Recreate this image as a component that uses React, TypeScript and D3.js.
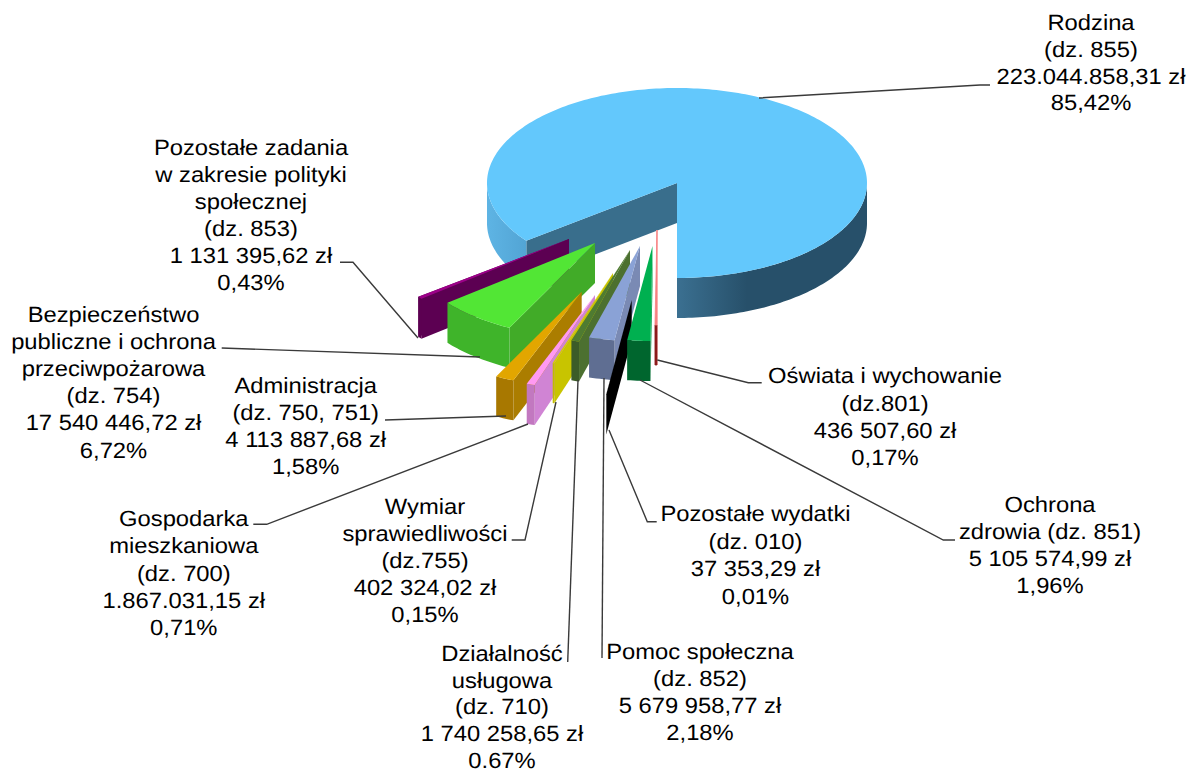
import React from "react";
import * as d3 from "d3";

// ---- data ----
const categories = [
  "Oświata i wychowanie", "Ochrona zdrowia", "Pozostałe wydatki", "Pomoc społeczna",
  "Działalność usługowa", "Wymiar sprawiedliwości", "Gospodarka mieszkaniowa",
  "Administracja", "Bezpieczeństwo publiczne", "Pozostałe zadania", "Rodzina",
];
const shares = [0.17, 1.96, 0.01, 2.18, 0.67, 0.15, 0.71, 1.58, 6.72, 0.43, 85.42];

// ---- styling / layout ----
const CX = 677, CY = 183, RX = 190, RY = 95, DEPTH = 40;
const explodeX = [-20, -24.5, -45.3, -37, -47, -64, -82, -95.3, -82, -108, 0];
const explodeY = [47, 63, 117, 63, 67, 90, 112, 108.7, 60, 56, 0];
const topColors = ["#f68080", "#00b050", "#000000", "#8aa2d6", "#4f7b31", "#d4cf00", "#ff99f2", "#e2a600", "#52e635", "#9c0088", "#63c8fc"];
const wallColors = ["#ffc0c0", "#00a048", "#000000", "#7a8ab4", "#4c7030", "#c8c400", "#d084d4", "#ab7d00", "#41ab28", "#5c0052", "#396e8c"];
const rimColors = ["#8c1c1c", "#00662e", "#000000", "#5f6e92", "#3c5c28", "#c0bc00", "#c278c0", "#a87800", "#3fb42a", "#5c0052", "#27506a"];

const labels: { x: number; y: number; step: number; lines: string[] }[] = [
  { x: 885, y: 375.7, step: 27.2, lines: ["Oświata i wychowanie", "(dz.801)", "436 507,60 zł", "0,17%"] },
  { x: 1050, y: 504, step: 27.2, lines: ["Ochrona", "zdrowia (dz. 851)", "5 105 574,99 zł", "1,96%"] },
  { x: 755.5, y: 513.7, step: 27.5, lines: ["Pozostałe wydatki", "(dz. 010)", "37 353,29 zł", "0,01%"] },
  { x: 700, y: 651.7, step: 26.9, lines: ["Pomoc społeczna", "(dz. 852)", "5 679 958,77 zł", "2,18%"] },
  { x: 502, y: 653.5, step: 26.6, lines: ["Działalność", "usługowa", "(dz. 710)", "1 740 258,65 zł", "0.67%"] },
  { x: 425, y: 506.7, step: 27, lines: ["Wymiar", "sprawiedliwości", "(dz.755)", "402 324,02 zł", "0,15%"] },
  { x: 183.8, y: 518.3, step: 27.25, lines: ["Gospodarka", "mieszkaniowa", "(dz. 700)", "1.867.031,15 zł", "0,71%"] },
  { x: 305.7, y: 385, step: 27.2, lines: ["Administracja", "(dz. 750, 751)", "4 113 887,68 zł", "1,58%"] },
  { x: 113.5, y: 313.8, step: 27.2, lines: ["Bezpieczeństwo", "publiczne i ochrona", "przeciwpożarowa", "(dz. 754)", "17 540 446,72 zł", "6,72%"] },
  { x: 251, y: 147.5, step: 26.9, lines: ["Pozostałe zadania", "w zakresie polityki", "społecznej", "(dz. 853)", "1 131 395,62 zł", "0,43%"] },
  { x: 1091, y: 22.5, step: 26.7, lines: ["Rodzina", "(dz. 855)", "223.044.858,31 zł", "85,42%"] },
];
const TEXT_STRETCH = 1.08;
const leaders: [number, number][][] = [
  [[761.7, 382.7], [748.3, 382.7], [657.3, 360]],
  [[955, 540], [943.3, 540], [640, 380]],
  [[656.7, 521.7], [647.3, 521.7], [609, 430]],
  [[602, 658], [604, 378]],
  [[567.7, 662], [578, 380]],
  [[511.7, 540], [525, 540], [556, 402]],
  [[253.3, 524.3], [266.7, 524.3], [528, 424]],
  [[385, 420], [506, 416]],
  [[221.7, 348], [480, 357]],
  [[340, 262.3], [353, 262.3], [418, 338]],
  [[759, 98], [980, 85], [990, 85]],
];

const H270 = (3 * Math.PI) / 2;
const H450 = (5 * Math.PI) / 2;

function App() {
  const arcs = d3.pie<number>().sort(null).startAngle(Math.PI).endAngle(3 * Math.PI)(shares);
  const line = d3.line();

  const pt = (a: number, ox: number, oy: number, d = 0): [number, number] => [
    CX + ox + RX * Math.sin(a),
    CY + oy - RY * Math.cos(a) + d,
  ];
  const arcPts = (a0: number, a1: number, ox: number, oy: number, d = 0) => {
    const n = Math.max(2, Math.ceil(Math.abs(a1 - a0) / 0.02));
    return d3.range(n + 1).map((i) => pt(a0 + ((a1 - a0) * i) / n, ox, oy, d));
  };
  const rim = (a0: number, a1: number, ox: number, oy: number) =>
    line([...arcPts(a0, a1, ox, oy), ...arcPts(a1, a0, ox, oy, DEPTH)]) + "Z";

  // Order: the big slice first, then the exploded ones from left to right.
  const order = d3.range(shares.length).sort((a, b) => (a === 10 ? -1 : b === 10 ? 1 : b - a));
  const shapes = order.map((i) => {
    const a = arcs[i];
    const ox = explodeX[i], oy = explodeY[i];
    const apex: [number, number] = [CX + ox, CY + oy];
    const apexD: [number, number] = [apex[0], apex[1] + DEPTH];
    const s = a.startAngle, e = a.endAngle;
    const top = line([apex, ...arcPts(s, e, ox, oy)]) + "Z";
    if (i === 10) {
      const cutEnd = pt(s, 0, 0);
      return (
        <g key={i}>
          <path d={line([apex, cutEnd, [cutEnd[0], cutEnd[1] + DEPTH], apexD]) + "Z"} fill={wallColors[i]} />
          <path d={rim(s, H270, 0, 0)} fill="url(#rimLeft)" />
          <path d={rim(H450, e, 0, 0)} fill="url(#rimRight)" />
          <path d={top} fill={topColors[i]} />
        </g>
      );
    }
    const startPt = pt(s, ox, oy);
    const endPt = pt(e, ox, oy);
    const wallStart = line([apex, startPt, [startPt[0], startPt[1] + DEPTH], apexD]) + "Z";
    const wallEnd = line([apex, endPt, [endPt[0], endPt[1] + DEPTH], apexD]) + "Z";
    const thin = i === 0;
    return (
      <g key={i}>
        {i === 9 ? <path d={wallEnd} fill={wallColors[i]} /> : null}
        <path d={wallStart} fill={wallColors[i]} stroke={thin ? wallColors[i] : "none"} strokeWidth={thin ? 1 : 0} />
        <path d={rim(s, e, ox, oy)} fill={rimColors[i]} stroke={thin ? rimColors[i] : "none"} strokeWidth={thin ? 0.8 : 0} />
        <path d={top} fill={topColors[i]} stroke={thin ? topColors[i] : "none"} strokeWidth={thin ? 0.8 : 0} />
      </g>
    );
  });

  return (
    <svg
      width={1190}
      height={773}
      viewBox="0 0 1190 773"
      style={{ position: "absolute", left: 0, top: 0, background: "#fff" }}
    >
      <defs>
        <linearGradient id="rimRight" gradientUnits="userSpaceOnUse" x1={CX} x2={CX + 70} y1={0} y2={0}>
          <stop offset="0" stopColor="#3b7091" />
          <stop offset="1" stopColor="#27506a" />
        </linearGradient>
        <linearGradient id="rimLeft" gradientUnits="userSpaceOnUse" x1={CX - RX} x2={CX - 150} y1={0} y2={0}>
          <stop offset="0" stopColor="#5eb4e4" />
          <stop offset="1" stopColor="#52a4d4" />
        </linearGradient>
      </defs>
      {shapes}
      {leaders.map((l, i) => (
        <path key={i} d={line(l) as string} fill="none" stroke="#3a3a3a" strokeWidth={1.4} />
      ))}
      {labels.map((l, i) => (
        <text
          key={i}
          transform={`translate(${l.x},0) scale(${TEXT_STRETCH},1)`}
          textAnchor="middle"
          fontFamily="'Liberation Sans', Arial, sans-serif"
          fontSize={22}
          textRendering="geometricPrecision"
          fill="#000"
        >
          {l.lines.map((t, j) => (
            <tspan key={j} x={0} y={l.y + j * l.step} dy="0.35em">
              {t}
            </tspan>
          ))}
        </text>
      ))}
    </svg>
  );
}

export default App;
